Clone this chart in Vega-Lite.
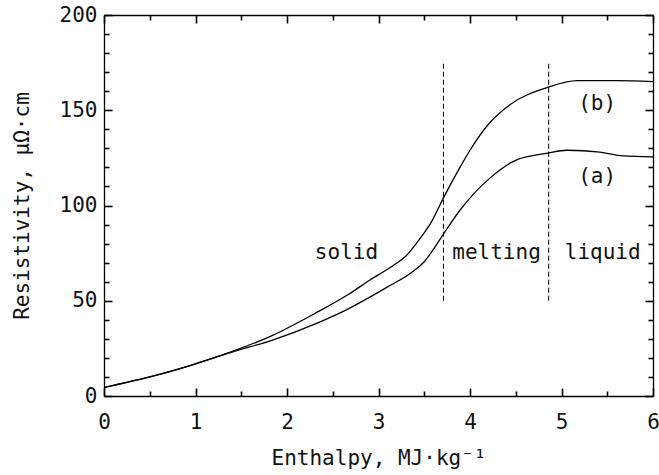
{
  "$schema": "https://vega.github.io/schema/vega-lite/v6.json",
  "width": 549,
  "height": 381,
  "autosize": "none",
  "padding": {"left": 104, "top": 15, "right": 6, "bottom": 79},
  "background": "white",
  "config": {
    "view": {"stroke": null},
    "font": "DejaVu Sans Mono",
    "axis": {
      "domainColor": "black", "domainWidth": 1.3,
      "labelFont": "DejaVu Sans Mono", "labelFontSize": 21, "labelColor": "#111", "labelFontWeight": "normal",
      "titleFont": "DejaVu Sans Mono", "titleFontSize": 21, "titleFontWeight": "normal", "titleColor": "#111",
      "grid": false, "labelFlush": false
    }
  },
  "datasets": {
    "curves": [
      {"series": "b", "h": 0, "r": 4.5},
      {"series": "b", "h": 0.5, "r": 10},
      {"series": "b", "h": 0.94, "r": 16},
      {"series": "b", "h": 1.38, "r": 23},
      {"series": "b", "h": 1.85, "r": 32},
      {"series": "b", "h": 2.33, "r": 44},
      {"series": "b", "h": 2.66, "r": 53},
      {"series": "b", "h": 2.91, "r": 61},
      {"series": "b", "h": 3.16, "r": 68.5},
      {"series": "b", "h": 3.3, "r": 73.5},
      {"series": "b", "h": 3.42, "r": 80.5},
      {"series": "b", "h": 3.58, "r": 91.5},
      {"series": "b", "h": 3.71, "r": 104},
      {"series": "b", "h": 3.89, "r": 120},
      {"series": "b", "h": 4.0, "r": 129},
      {"series": "b", "h": 4.19, "r": 142},
      {"series": "b", "h": 4.44, "r": 153},
      {"series": "b", "h": 4.85, "r": 162},
      {"series": "b", "h": 5.17, "r": 165.5},
      {"series": "b", "h": 5.6, "r": 165.5},
      {"series": "b", "h": 6.0, "r": 165},
      {"series": "a", "h": 0, "r": 4.5},
      {"series": "a", "h": 0.5, "r": 10},
      {"series": "a", "h": 0.94, "r": 16},
      {"series": "a", "h": 1.38, "r": 22.8},
      {"series": "a", "h": 1.85, "r": 29.5},
      {"series": "a", "h": 2.33, "r": 38.3},
      {"series": "a", "h": 2.66, "r": 45.5},
      {"series": "a", "h": 2.91, "r": 52},
      {"series": "a", "h": 3.09, "r": 57},
      {"series": "a", "h": 3.38, "r": 65.5},
      {"series": "a", "h": 3.5, "r": 70.5},
      {"series": "a", "h": 3.6, "r": 77},
      {"series": "a", "h": 3.71, "r": 85},
      {"series": "a", "h": 3.89, "r": 97.5},
      {"series": "a", "h": 4.22, "r": 114.5},
      {"series": "a", "h": 4.51, "r": 124},
      {"series": "a", "h": 4.85, "r": 127.5},
      {"series": "a", "h": 5.06, "r": 129},
      {"series": "a", "h": 5.42, "r": 128},
      {"series": "a", "h": 5.67, "r": 126},
      {"series": "a", "h": 6.0, "r": 125.5}
    ],
    "boundaries": [
      {"h": 3.71, "r1": 50, "r2": 175},
      {"h": 4.86, "r1": 50, "r2": 175}
    ],
    "labels": [
      {"h": 2.65, "r": 75, "text": "solid"},
      {"h": 4.29, "r": 75, "text": "melting"},
      {"h": 5.45, "r": 75, "text": "liquid"},
      {"h": 5.39, "r": 153.5, "text": "(b)"},
      {"h": 5.39, "r": 115, "text": "(a)"}
    ]
  },
  "resolve": {"axis": {"x": "independent", "y": "independent"}},
  "layer": [
    {
      "data": {"name": "curves"},
      "mark": {"type": "line", "color": "black", "strokeWidth": 1.3, "interpolate": "monotone"},
      "encoding": {
        "x": {"field": "h", "type": "quantitative",
              "scale": {"domain": [0, 6], "nice": false, "zero": false},
              "axis": {"orient": "bottom", "title": "Enthalpy, MJ·kg⁻¹",
                       "values": [0, 1, 2, 3, 4, 5, 6], "format": "d",
                       "ticks": true, "tickSize": -8, "tickColor": "#000000", "tickWidth": 1.6,
                       "labelPadding": 23, "titlePadding": 15}},
        "y": {"field": "r", "type": "quantitative",
              "scale": {"domain": [0, 200], "nice": false},
              "axis": {"orient": "left", "title": "Resistivity, μΩ·cm",
                       "values": [0, 50, 100, 150, 200], "format": "d",
                       "ticks": true, "tickSize": -8, "tickColor": "#000000", "tickWidth": 1.6,
                       "labelPadding": 15, "titlePadding": 27}},
        "detail": {"field": "series", "type": "nominal"}
      }
    },
    {
      "data": {"name": "boundaries"},
      "mark": {"type": "rule", "color": "black", "strokeWidth": 1, "strokeDash": [5, 3]},
      "encoding": {
        "x": {"field": "h", "type": "quantitative",
              "axis": {"orient": "top", "title": null, "labels": false,
                       "values": [0, 1, 2, 3, 4, 5, 6],
                       "ticks": true, "tickSize": -8, "tickColor": "#000000", "tickWidth": 1.6}},
        "y": {"field": "r1", "type": "quantitative",
              "axis": {"orient": "right", "title": null, "labels": false,
                       "values": [0, 50, 100, 150, 200],
                       "ticks": true, "tickSize": -8, "tickColor": "#000000", "tickWidth": 1.6}},
        "y2": {"field": "r2"}
      }
    },
    {
      "data": {"name": "labels"},
      "mark": {"type": "text", "font": "DejaVu Sans Mono", "fontSize": 21, "color": "#111", "align": "center", "baseline": "middle"},
      "encoding": {
        "x": {"field": "h", "type": "quantitative",
              "axis": {"orient": "bottom", "title": null, "labels": false, "domain": false,
                       "values": [0.5, 1.5, 2.5, 3.5, 4.5, 5.5],
                       "ticks": true, "tickSize": -5, "tickColor": "#000000", "tickWidth": 1.6}},
        "y": {"field": "r", "type": "quantitative",
              "axis": {"orient": "left", "title": null, "labels": false, "domain": false,
                       "values": [10, 20, 30, 40, 60, 70, 80, 90, 110, 120, 130, 140, 160, 170, 180, 190],
                       "ticks": true, "tickSize": -5, "tickColor": "#000000", "tickWidth": 1.6}},
        "text": {"field": "text"}
      }
    },
    {
      "data": {"name": "boundaries"},
      "mark": {"type": "rule", "strokeOpacity": 0},
      "encoding": {
        "x": {"field": "h", "type": "quantitative",
              "axis": {"orient": "top", "title": null, "labels": false, "domain": false,
                       "values": [0.5, 1.5, 2.5, 3.5, 4.5, 5.5],
                       "ticks": true, "tickSize": -5, "tickColor": "#000000", "tickWidth": 1.6}},
        "y": {"field": "r1", "type": "quantitative",
              "axis": {"orient": "right", "title": null, "labels": false, "domain": false,
                       "values": [10, 20, 30, 40, 60, 70, 80, 90, 110, 120, 130, 140, 160, 170, 180, 190],
                       "ticks": true, "tickSize": -5, "tickColor": "#000000", "tickWidth": 1.6}},
        "y2": {"field": "r2"}
      }
    }
  ]
}
